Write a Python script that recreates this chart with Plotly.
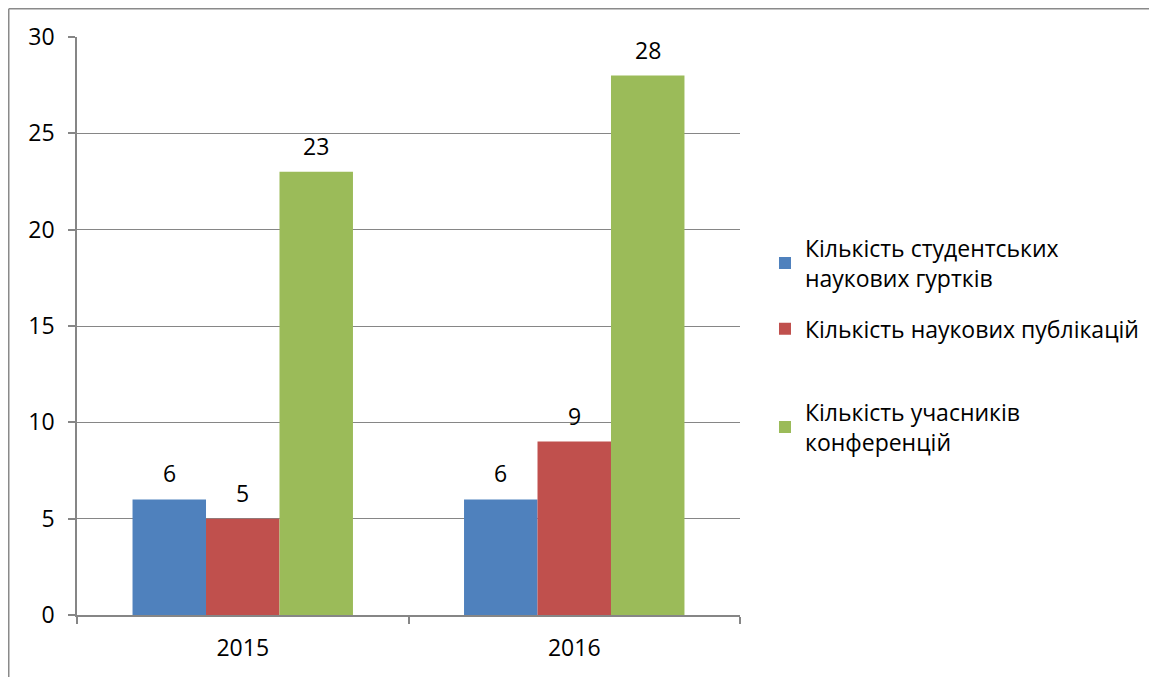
import plotly.graph_objects as go

years = ["2015", "2016"]
series_names = [
    "Кількість студентських<br>наукових гуртків",
    "Кількість наукових публікацій",
    "Кількість учасників<br>конференцій",
]
circles = [6, 6]
publications = [5, 9]
participants = [23, 28]
colors = ["#4F81BD", "#C0504D", "#9BBB59"]
y_ticks = [0, 5, 10, 15, 20, 25, 30]

# page has an 8px body margin; size the figure to fit the window
W, H = 1149, 669
plot_w, plot_h = 663, 578
ml, mt = 69, 29
mr, mb = W - ml - plot_w, H - mt - plot_h
bargap = 0.335
font = "Open Sans, Noto Sans, sans-serif"
fs = 23

legend_ids = ["legend", "legend2", "legend3"]
legend_y = [0.609, 0.495, 0.325]

fig = go.Figure()
all_series = [circles, publications, participants]
for k, (name, vals, col) in enumerate(zip(series_names, all_series, colors)):
    fig.add_trace(go.Bar(x=years, y=vals, name=name, legend=legend_ids[k],
                         showlegend=True,
                         marker=dict(color=col, line=dict(width=0))))

bar_px = plot_w / len(years) * (1 - bargap) / len(all_series)
annotations = []
for i, vals in enumerate(all_series):
    for j, v in enumerate(vals):
        annotations.append(dict(
            x=j, y=v, text=str(v), showarrow=False, xref="x", yref="y",
            xshift=(i - 1) * bar_px, yanchor="bottom", yshift=8,
            font=dict(size=fs, color="#000", family=font),
        ))

# outer frame lines (at the figure's top-left edge)
fx = (0.75 - ml) / plot_w
fy = 1 + (mt - 0.75) / plot_h
shapes = [
    dict(type="line", xref="paper", yref="paper", x0=fx, x1=2.0, y0=fy, y1=fy,
         line=dict(color="#8a8a8a", width=1.5)),
    dict(type="line", xref="paper", yref="paper", x0=fx, x1=fx, y0=fy, y1=-0.5,
         line=dict(color="#8a8a8a", width=1.5)),
]

legend_common = dict(x=1.0377, xanchor="left", yanchor="middle", visible=True,
                     font=dict(size=fs, family=font), itemwidth=30,
                     bgcolor="rgba(0,0,0,0)")
legends = {lid: dict(legend_common, y=ly) for lid, ly in zip(legend_ids, legend_y)}

fig.update_layout(
    width=W, height=H,
    showlegend=True,
    margin=dict(l=ml, r=mr, t=mt, b=mb, pad=0),
    paper_bgcolor="white", plot_bgcolor="white",
    barmode="group", bargap=bargap, bargroupgap=0,
    font=dict(family=font, size=fs, color="#000"),
    annotations=annotations,
    shapes=shapes,
    xaxis=dict(type="category", range=[-0.5, 1.5], showline=True, linecolor="#868686",
               linewidth=1.5, ticks="outside", tickson="boundaries", ticklen=7,
               tickcolor="#868686", tickwidth=1.5, tickfont=dict(size=fs),
               showgrid=False, tickangle=0, ticklabelstandoff=12),
    yaxis=dict(range=[0, 30], tickvals=y_ticks, showline=True, linecolor="#868686",
               linewidth=1.5, ticks="outside", ticklen=7, tickcolor="#868686", tickwidth=1.5,
               showgrid=True, gridcolor="#868686", gridwidth=1.2, zeroline=False,
               tickfont=dict(size=fs), ticklabelstandoff=9),
    **legends,
)

fig.write_html("out.html")
